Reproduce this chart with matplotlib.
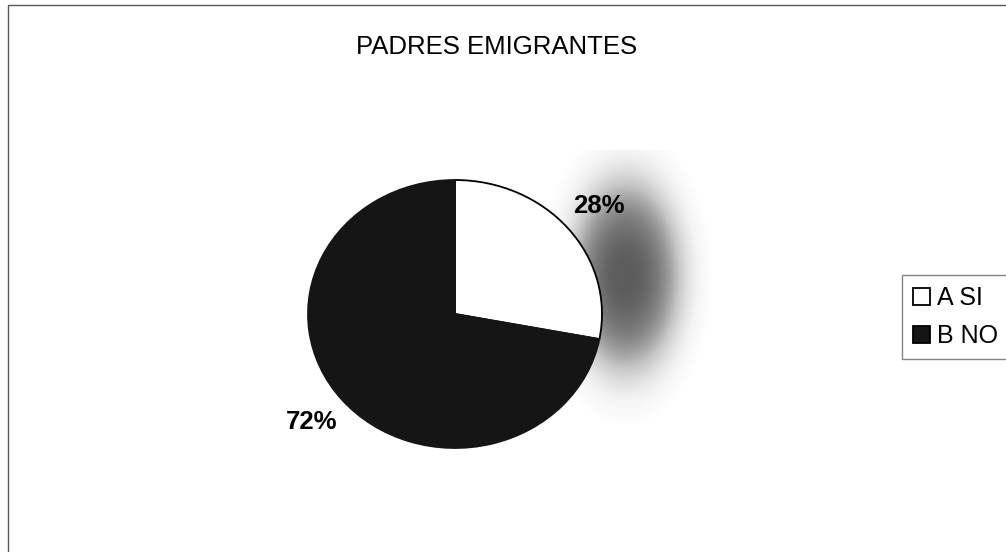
import numpy as np
import matplotlib
matplotlib.use("Agg")
import matplotlib.pyplot as plt
from matplotlib.patches import Rectangle

plt.rcParams['font.family'] = ['Liberation Sans', 'DejaVu Sans']

title = "PADRES EMIGRANTES"
labels = ["A SI", "B NO"]
values = [28, 72]
colors = ["#ffffff", "#151515"]

W, H = 1006, 552
fig = plt.figure(figsize=(W / 100, H / 100), dpi=100)

# scan border (left and top only visible)
fig.patches.append(Rectangle((8 / W, -0.1), 1.2, 1 - 5 / H + 0.1, transform=fig.transFigure,
                             fill=False, edgecolor="#555555", linewidth=1.0))

# gray scan halo to the right of the pie
hx = fig.add_axes([545 / W, 1 - 430 / H, 190 / W, 280 / H])
yy, xx = np.mgrid[-1:1:200j, -1:1:200j]
blob = np.exp(-((xx + 0.15) ** 2 / 0.4 + (yy + 0.1) ** 2 / 0.55) ** 1.5)
blob = np.clip(blob - 0.04, 0, None)
hx.imshow(blob, cmap="Greys", vmin=0, vmax=1.2, aspect="auto", alpha=0.85)
hx.axis("off")

ax = fig.add_axes([308 / W, 1 - 448 / H, 294 / W, 268 / H])
wedges, texts, autotexts = ax.pie(
    values, colors=colors, startangle=90, counterclock=False,
    autopct=lambda p: f"{p:.0f}%", pctdistance=1.27,
    wedgeprops=dict(edgecolor="black", linewidth=1.3),
    textprops=dict(fontsize=18.5, fontweight="bold", color="black"))
wedges[1].set_edgecolor("#151515")
ax.set_aspect("auto")
ax.set_xlim(-1.0, 1.0)
ax.set_ylim(-1.0, 1.0)

fig.text(497 / W, 1 - 47 / H, title, ha="center", va="center", fontsize=18.5)

leg = fig.legend(wedges, labels, loc="upper left", bbox_to_anchor=(902 / W, 1 - 275 / H),
                 fontsize=18, frameon=True, fancybox=False, handlelength=0.65, handleheight=0.65,
                 handletextpad=0.3, labelspacing=0.55, borderpad=0.45, borderaxespad=0)
leg.get_frame().set_edgecolor("#666666")
leg.get_frame().set_linewidth(1.0)
for h in leg.legend_handles:
    h.set_edgecolor("black")

fig.savefig("out.png", dpi=100)
